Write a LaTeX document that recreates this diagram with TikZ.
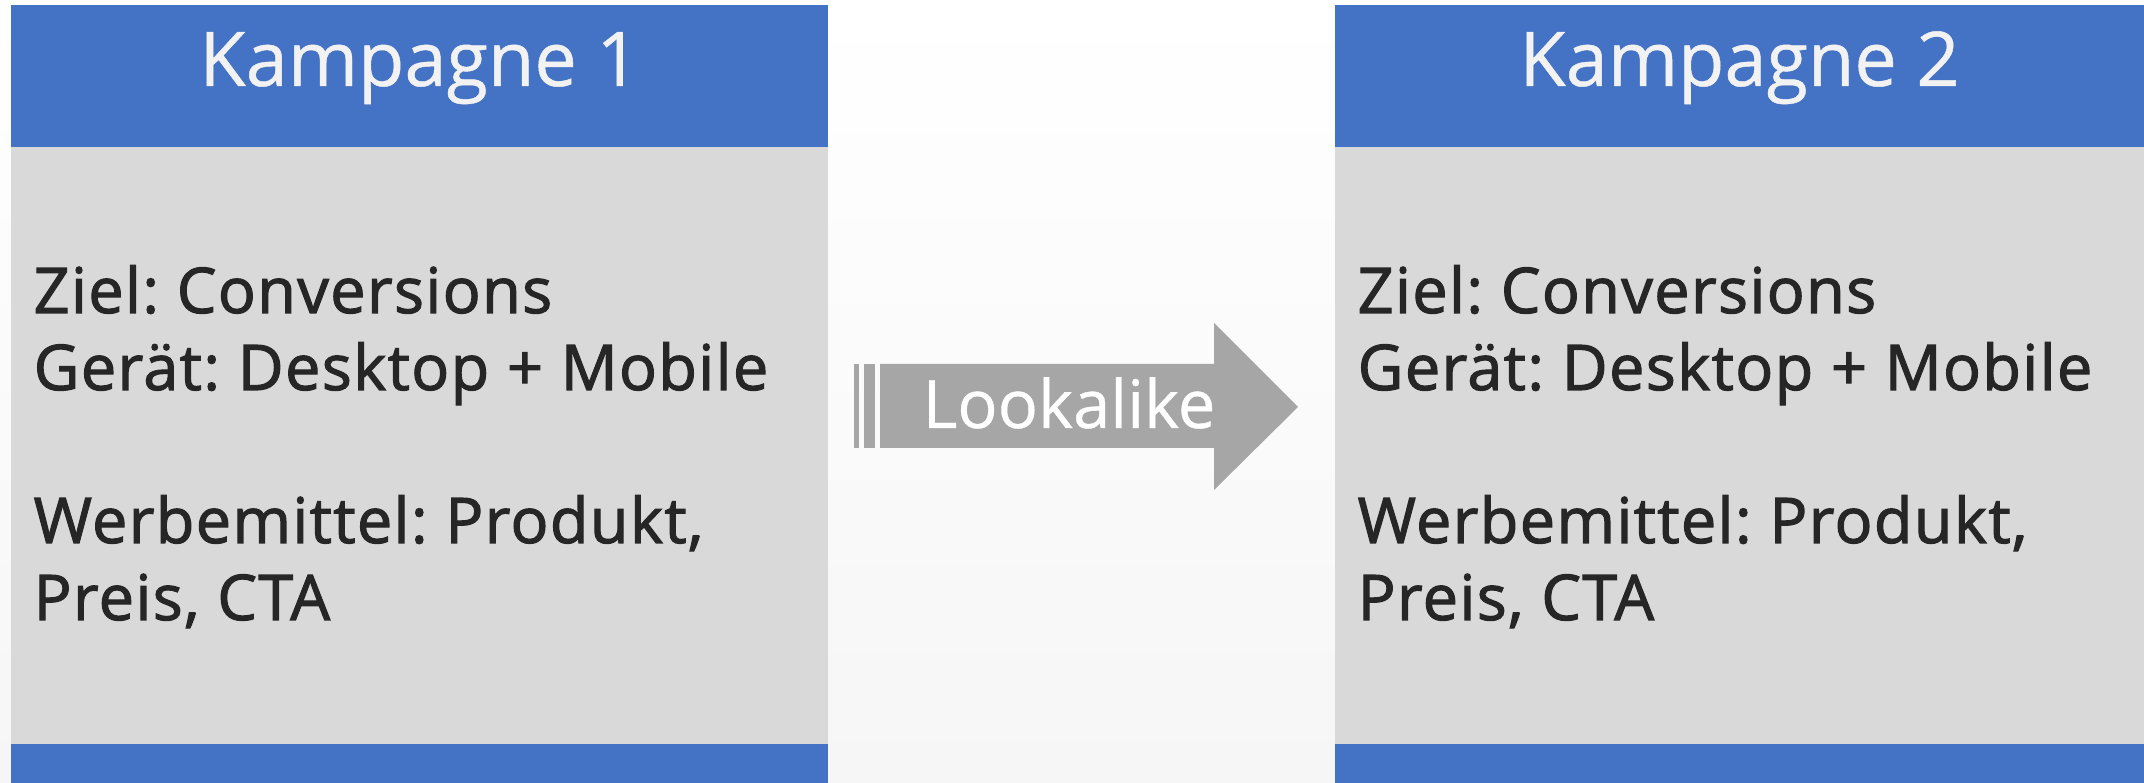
\documentclass[tikz,border=0pt]{standalone}
\usepackage{fontspec}
\setmainfont{Open Sans}
\newfontfamily\itemfont{Open Sans}[FakeBold=1.8,LetterSpace=2.2]
\newfontfamily\labelfont{Open Sans}[FakeBold=0.6]
\frenchspacing
\definecolor{hdrblue}{HTML}{4472C4}
\definecolor{bodygray}{HTML}{D9D9D9}
\definecolor{arrowgray}{HTML}{A6A6A6}
\definecolor{txtdark}{HTML}{262626}
\definecolor{hdrtxt}{HTML}{F2F2F2}
\definecolor{bgbottom}{HTML}{F6F6F6}
\begin{document}
\begin{tikzpicture}[x=0.01cm,y=-0.01cm,
  band/.style={fill=hdrblue,draw=none},
  panel/.style={fill=bodygray,draw=none},
  title/.style={font=\labelfont\fontsize{21.5pt}{26pt}\selectfont,text=hdrtxt,anchor=base,inner sep=0pt},
  item/.style={font=\itemfont\fontsize{17.9pt}{22pt}\selectfont,text=txtdark,anchor=base west,inner sep=0pt},
  arrowlabel/.style={font=\labelfont\fontsize{19pt}{23pt}\selectfont,text=white,anchor=base,inner sep=0pt}]
  % page and soft background
  \useasboundingbox (0,0) rectangle (2144,783);
  \shade[top color=white,bottom color=bgbottom] (0,0) rectangle (2144,783);

  % left campaign
  \fill[band]  (11,5)   rectangle (828,147);
  \fill[panel] (11,147) rectangle (828,744);
  \fill[band]  (11,744) rectangle (828,783);
  \node[title] (t1) at (419.5,86) {Kampagne 1};
  \node[item] (a1) at (33,313) {Ziel: Conversions};
  \node[item] (a2) at (33,390) {Gerät: Desktop + Mobile};
  \node[item] (a3) at (33,543) {Werbemittel: Produkt,};
  \node[item] (a4) at (33,620) {Preis, CTA};

  % right campaign
  \fill[band]  (1335,5)   rectangle (2144,147);
  \fill[panel] (1335,147) rectangle (2144,744);
  \fill[band]  (1335,744) rectangle (2144,783);
  \node[title] (t2) at (1739.5,86) {Kampagne 2};
  \node[item] (b1) at (1357,313) {Ziel: Conversions};
  \node[item] (b2) at (1357,390) {Gerät: Desktop + Mobile};
  \node[item] (b3) at (1357,543) {Werbemittel: Produkt,};
  \node[item] (b4) at (1357,620) {Preis, CTA};

  % striped block arrow
  \fill[arrowgray] (854,364) rectangle (859,448);
  \fill[arrowgray] (864,364) rectangle (875,448);
  \fill[arrowgray] (880,364) -- (1214,364) -- (1214,323) -- (1298,407)
                   -- (1214,490) -- (1214,448) -- (880,448) -- cycle;
  \node[arrowlabel] (lk) at (1069,428) {Lookalike};
\end{tikzpicture}
\end{document}
